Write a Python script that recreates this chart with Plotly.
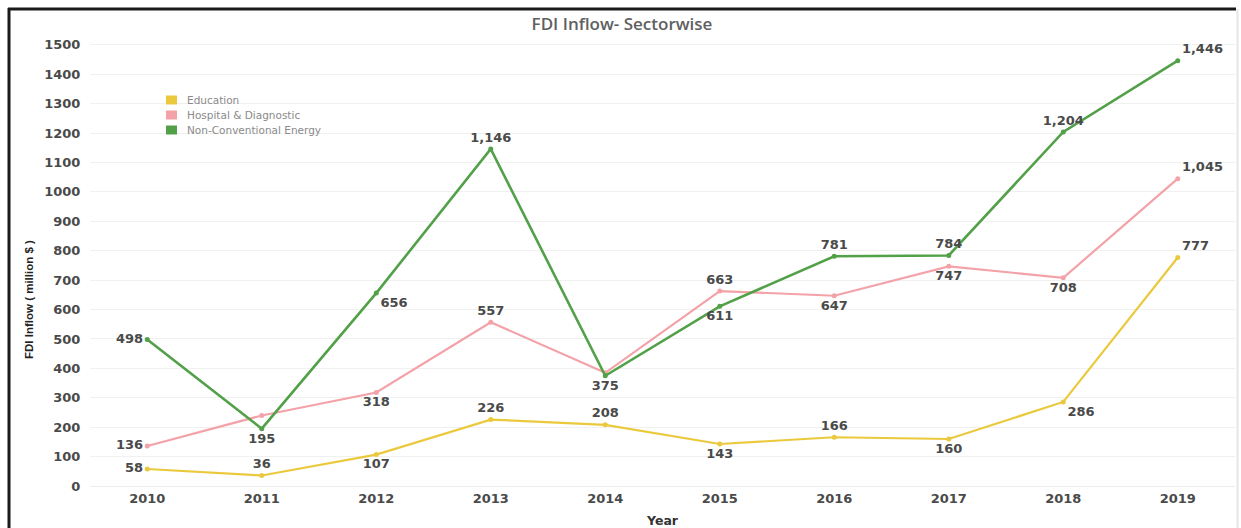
import plotly.graph_objects as go

# ---- data -------------------------------------------------------------
years = ["2010", "2011", "2012", "2013", "2014", "2015", "2016", "2017", "2018", "2019"]

education = [58, 36, 107, 226, 208, 143, 166, 160, 286, 777]
hospital = [136, 240, 318, 557, 385, 663, 647, 747, 708, 1045]
energy = [498, 195, 656, 1146, 375, 611, 781, 784, 1204, 1446]

series_names = ["Education", "Hospital & Diagnostic", "Non-Conventional Energy"]
series_colors = ["#EAC93C", "#F3A2A8", "#52A048"]

# which points carry a value label, and where the label sits
edu_label_pos = ["middle left", "top center", "bottom center", "top center", "top center",
                 "bottom center", "top center", "bottom center", "bottom right", "top right"]
hosp_label_pos = ["middle left", "top center", "bottom center", "top center", "top center",
                  "top center", "bottom center", "bottom center", "bottom center", "top right"]
hosp_labelled = [True, False, True, True, False, True, True, True, True, True]
energy_label_pos = ["middle left", "bottom center", "bottom right", "top center", "bottom center",
                    "bottom center", "top center", "top center", "top center", "top right"]

# ---- geometry ---------------------------------------------------------
W, H = 1241, 528
L, R, T, B = 90, 6, 36, 39
PW, PH = W - L - R, H - T - B


def px_x(p):
    return (p - L) / PW


def px_y(p):
    return (H - B - p) / PH


def labels(values, keep=None):
    keep = keep or [True] * len(values)
    return [f"{v:,}" if k else "" for v, k in zip(values, keep)]


NUM_FONT = "DejaVu Sans"
label_font = dict(family=NUM_FONT, size=13, color="#4a4a4a", weight=700)

fig = go.Figure()

xs = list(range(len(years)))
for vals, name, color, pos, keep, width in [
    (education, series_names[0], series_colors[0], edu_label_pos, None, 2.2),
    (hospital, series_names[1], series_colors[1], hosp_label_pos, hosp_labelled, 2.2),
    (energy, series_names[2], series_colors[2], energy_label_pos, None, 2.6),
]:
    fig.add_trace(go.Scatter(
        x=xs, y=vals, name=name, mode="lines+markers+text",
        line=dict(color=color, width=width),
        marker=dict(color=color, size=5),
        text=labels(vals, keep), textposition=pos,
        textfont=label_font, showlegend=False, cliponaxis=False,
    ))

# ---- legend (colour swatches + names) ---------------------------------
shapes = []
annotations = []
for i, (name, color) in enumerate(zip(series_names, series_colors)):
    yc = 100 + i * 15
    shapes.append(dict(type="rect", xref="paper", yref="paper",
                       x0=px_x(166), x1=px_x(177), y0=px_y(yc - 4.5), y1=px_y(yc + 4.5),
                       fillcolor=color, line=dict(width=0), layer="above"))
    annotations.append(dict(text=name, xref="paper", yref="paper",
                            x=px_x(185), y=px_y(yc), xanchor="left", yanchor="middle",
                            showarrow=False,
                            font=dict(family="DejaVu Sans", size=10.5, color="#8a8a8a")))

# ---- sheet frame ------------------------------------------------------
shapes += [
    dict(type="line", xref="paper", yref="paper", x0=px_x(8), x1=px_x(1236),
         y0=px_y(9), y1=px_y(9), line=dict(color="#1a1a1a", width=3)),
    dict(type="line", xref="paper", yref="paper", x0=px_x(9), x1=px_x(9),
         y0=px_y(8), y1=px_y(H + 5), line=dict(color="#1a1a1a", width=3)),
    dict(type="line", xref="paper", yref="paper", x0=px_x(1237.5), x1=px_x(1237.5),
         y0=px_y(9), y1=px_y(H + 5), line=dict(color="#e6e6e6", width=2)),
]

# axis titles
annotations += [
    dict(text="FDI Inflow ( million $ )", xref="paper", yref="paper",
         x=px_x(29), y=px_y(300), textangle=-90, showarrow=False,
         xanchor="center", yanchor="middle",
         font=dict(family="Liberation Sans", size=11.5, color="#222222", weight=700)),
    dict(text="Year", xref="paper", yref="paper",
         x=0.5, y=px_y(520), showarrow=False, xanchor="center", yanchor="middle",
         font=dict(family=NUM_FONT, size=12.5, color="#333333", weight=700)),
]

fig.update_layout(
    width=W, height=H,
    margin=dict(l=L, r=R, t=T, b=B),
    paper_bgcolor="white", plot_bgcolor="white",
    title=dict(text="FDI Inflow- Sectorwise", x=622 / W, xref="container",
               y=1 - 24 / H, yref="container", xanchor="center", yanchor="middle",
               font=dict(family="Open Sans", size=17, color="#606060", weight=600)),
    shapes=shapes, annotations=annotations,
    showlegend=False,
)

fig.update_xaxes(
    range=[-0.5, len(years) - 0.5], tickmode="array", tickvals=xs, ticktext=years,
    showgrid=False, zeroline=False, showline=False, ticks="",
    tickfont=dict(family=NUM_FONT, size=13, color="#4a4a4a", weight=700),
)
fig.update_yaxes(
    range=[-10, 1530], tickmode="linear", tick0=0, dtick=100,
    showgrid=True, gridcolor="#f0f0f0", gridwidth=1,
    zeroline=True, zerolinecolor="#ececec", zerolinewidth=1, showline=False,
    ticks="outside", ticklen=6, tickcolor="rgba(0,0,0,0)",
    tickfont=dict(family=NUM_FONT, size=13, color="#4a4a4a", weight=700),
)

fig.write_html("out.html")
